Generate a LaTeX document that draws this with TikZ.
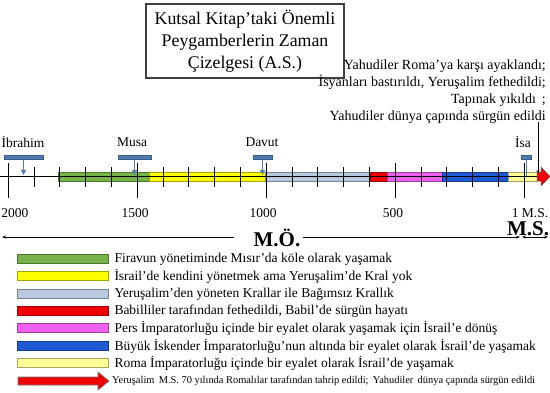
\documentclass[tikz,border=0pt]{standalone}
\usepackage{fontspec}
\setmainfont{Liberation Serif}
\usetikzlibrary{positioning,arrows.meta}
\definecolor{greenbar}{RGB}{118,180,74}
\definecolor{yellowbar}{RGB}{255,255,0}
\definecolor{bluegray}{RGB}{185,201,224}
\definecolor{redbar}{RGB}{240,0,0}
\definecolor{pinkbar}{RGB}{238,96,238}
\definecolor{bluebar}{RGB}{30,90,210}
\definecolor{paleyellow}{RGB}{255,255,150}
\definecolor{markblue}{RGB}{79,125,176}
\definecolor{markedge}{RGB}{56,93,138}
\newcommand{\fsTitle}{\fontsize{17.8}{22}\selectfont}
\newcommand{\fsLeg}{\fontsize{13.5}{17}\selectfont}
\newcommand{\fsRight}{\fontsize{14}{16.8}\selectfont}
\newcommand{\fsBig}{\fontsize{21}{24}\selectfont\bfseries}
\newcommand{\fsNote}{\fontsize{10.4}{12}\selectfont}

\begin{document}
\begin{tikzpicture}[x=1pt,y=-1pt,
  markbar/.style={rectangle,fill=markblue,draw=markedge,line width=0.5pt,
    minimum height=4pt,inner sep=0pt},
  stem/.style={-{Triangle[length=5pt,width=5pt]},markblue,line width=1.3pt},
  legbox/.style={rectangle,draw=#1!65!black,fill=#1,line width=0.6pt,
    minimum width=91pt,minimum height=8.5pt,inner sep=0pt},
  legtext/.style={font=\fsLeg,inner sep=0pt,anchor=west},
  eraline/.style={-{Stealth[length=4pt,width=3pt]},line width=0.7pt}]
\useasboundingbox (0,0) rectangle (550,392);
% Title
\node[rectangle,draw=black!75,line width=1.3pt,minimum width=198pt,
  minimum height=74pt,align=center,font=\fsTitle] (title) at (245,41)
  {Kutsal Kitap’taki Önemli\\Peygamberlerin Zaman\\Çizelgesi (A.S.)};
% Note on the right
\node[anchor=north east,align=right,font=\fsRight,inner sep=0pt] (romanote) at (546,60)
  {Yahudiler Roma’ya karşı ayaklandı;\\İsyanları bastırıldı, Yeruşalim fethedildi;\\
   Tapınak yıkıldı \,;\\Yahudiler dünya çapında sürgün edildi\hspace{5pt}};
\coordinate (notefoot) at (538,122);
\coordinate (fallpt) at (538,174);
\draw[-{Stealth[length=4pt,width=3pt]},line width=0.5pt] (notefoot) -- (fallpt);
% Coloured periods
\foreach \xa/\xb/\col in {58/149/greenbar,149/265/yellowbar,265/370/bluegray,
  370/387/redbar,387/442/pinkbar,442/508/bluebar,508/537/paleyellow}
  \draw[fill=\col,draw=\col!65!black,line width=0.5pt] (\xa,172) rectangle (\xb,181);
\draw[fill=redbar,draw=black!60,line width=0.5pt] (537,172) -- (541,172) -- (541,167)
  -- (550,176.5) -- (541,186) -- (541,181) -- (537,181) -- cycle;
% Axis and ticks
\coordinate (axisstart) at (0,176.5);
\coordinate (axisend) at (537,176.5);
\draw[line width=0.6pt] (axisstart) -- (axisend);
\foreach \i in {0,...,20}
  \draw[line width=0.6pt] (8+25.8*\i,167) -- (8+25.8*\i,187);
\foreach \i in {0,...,4}
  \draw[line width=0.6pt] (8+129*\i,163) -- (8+129*\i,198);
% Prophets
\node[markbar,minimum width=39pt] (ibrahimbar) at (23.5,157.5) {};
\node[markbar,minimum width=33pt] (musabar) at (134.5,157.5) {};
\node[markbar,minimum width=19pt] (davutbar) at (262.5,157.5) {};
\node[markbar,minimum width=10pt] (isabar) at (526.5,157.5) {};
\coordinate (ibrahimpt) at (23.5,175);
\coordinate (musapt) at (134.5,175);
\coordinate (davutpt) at (262.5,175);
\coordinate (isapt) at (526.5,176);
\draw[stem] (ibrahimbar.south) -- (ibrahimpt);
\draw[stem] (musabar.south) -- (musapt);
\draw[stem] (davutbar.south) -- (davutpt);
\draw[markblue,line width=1.3pt] (isabar.south) -- (isapt);
\node[font=\fsLeg] (ibrahim) at (23,142) {İbrahim};
\node[font=\fsLeg] (musa) at (132,142) {Musa};
\node[font=\fsLeg] (davut) at (262,142) {Davut};
\node[font=\fsLeg] (isa) at (523,142) {İsa};
% Years
\node[font=\fsLeg] (y2000) at (15,213) {2000};
\node[font=\fsLeg] (y1500) at (135,213) {1500};
\node[font=\fsLeg] (y1000) at (263,213) {1000};
\node[font=\fsLeg] (y500) at (393,213) {500};
\node[font=\fsLeg] (y1) at (530,213) {1 M.S.};
% Eras
\node[font=\fsBig,inner sep=1pt] (mo) at (277,238) {M.Ö.};
\node[font=\fsBig,inner sep=0pt] (ms) at (528,229) {M.S.};
\coordinate (moleft) at (2,237);
\coordinate (mogap) at (234,237);
\coordinate (mostart) at (303,237);
\coordinate (moright) at (520,237);
\coordinate (msleft) at (522,237);
\coordinate (msright) at (548,237);
\draw[eraline] (mogap) -- (moleft);
\draw[eraline] (mostart) -- (moright);
\draw[eraline,{Stealth[length=4pt,width=3pt]}-{Stealth[length=4pt,width=3pt]}] (msleft) -- (msright);
% Legend
\node[legbox=greenbar] (leg1) at (62.5,259) {};
\node[legbox=yellowbar] (leg2) at (62.5,276) {};
\node[legbox=bluegray] (leg3) at (62.5,294) {};
\node[legbox=redbar] (leg4) at (62.5,311) {};
\node[legbox=pinkbar] (leg5) at (62.5,328) {};
\node[legbox=bluebar] (leg6) at (62.5,346) {};
\node[legbox=paleyellow] (leg7) at (62.5,363) {};
\node[legtext,right=6pt of leg1] (txt1) {Firavun yönetiminde Mısır’da köle olarak yaşamak};
\node[legtext,right=6pt of leg2] (txt2) {İsrail’de kendini yönetmek ama Yeruşalim’de Kral yok};
\node[legtext,right=6pt of leg3] (txt3) {Yeruşalim’den yöneten Krallar ile Bağımsız Krallık};
\node[legtext,right=6pt of leg4] (txt4) {Babilliler tarafından fethedildi, Babil’de sürgün hayatı};
\node[legtext,right=6pt of leg5] (txt5) {Pers İmparatorluğu içinde bir eyalet olarak yaşamak için İsrail'e dönüş};
\node[legtext,right=6pt of leg6] (txt6) {Büyük İskender İmparatorluğu'nun altında bir eyalet olarak İsrail'de yaşamak};
\node[legtext,right=6pt of leg7] (txt7) {Roma İmparatorluğu içinde bir eyalet olarak İsrail’de yaşamak};
\draw[fill=redbar,draw=black!55,line width=0.6pt] (18,377) -- (98,377) -- (98,372)
  -- (109,381) -- (98,390) -- (98,385) -- (18,385) -- cycle;
\coordinate (leg8) at (109,381);
\node[font=\fsNote,inner sep=0pt,anchor=west] (txt8) at ([xshift=3pt]leg8)
  {Yeruşalim\, M.S. 70 yılında Romalılar tarafından tahrip edildi;\, Yahudiler\, dünya çapında sürgün edildi};
\end{tikzpicture}
\end{document}
